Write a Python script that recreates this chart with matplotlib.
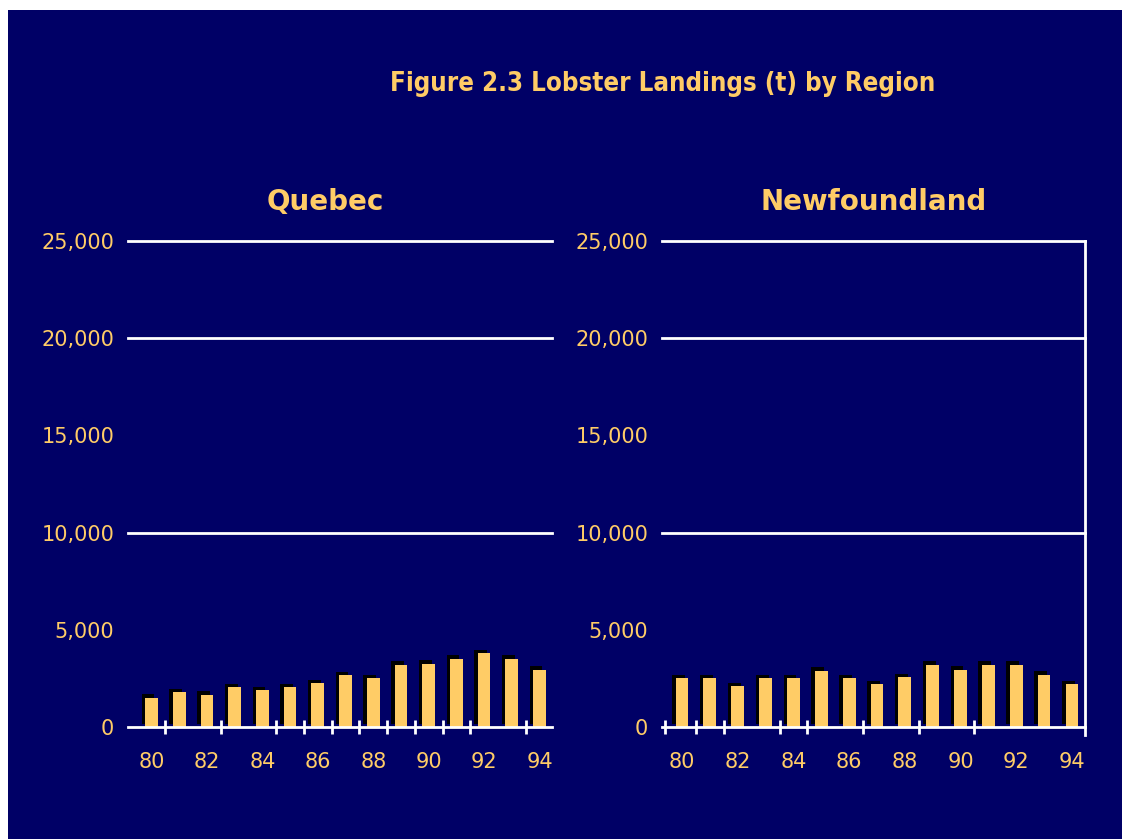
"""
Figure 2.3 - Lobster landings (t) by region, Quebec vs Newfoundland, 1980-94.
"""

import matplotlib.pyplot as plt
import matplotlib.patheffects as pe
from matplotlib.patches import Rectangle

# Data
years = list(range(80, 95))
year_labels = ['80', '82', '84', '86', '88', '90', '92', '94']
quebec = [1500, 1800, 1650, 2050, 1900, 2050, 2250, 2650, 2500,
          3200, 3250, 3500, 3800, 3500, 2950]
newfoundland = [2500, 2500, 2100, 2500, 2500, 2900, 2500, 2200, 2550,
                3200, 2950, 3200, 3200, 2700, 2200]
y_ticks = [0, 5000, 10000, 15000, 20000, 25000]
grid_values = [10000, 20000, 25000]

# tick marks on the category axis sit at odd places in the original
quebec_marks = [80.5, 82.5, 84.5, 85.5, 86.5, 87.5, 88.5, 89.5, 90.5, 91.5, 93.5]
nfld_marks = [79.4, 80.5, 81.5, 83.5, 84.5, 86.5, 88.5, 90.5]

NAVY = '#000066'
GOLD = '#ffcc66'
W, H = 1122, 839

fig = plt.figure(figsize=(W / 100, H / 100), dpi=100)
fig.patch.set_facecolor('white')
fig.add_artist(Rectangle((8 / W, 0), 1 - 8 / W, 1 - 10 / H,
                         transform=fig.transFigure, facecolor=NAVY,
                         edgecolor='none', zorder=0))

fig.text(663 / W, 1 - 84 / H, 'Figure 2.3 Lobster Landings (t) by Region',
         ha='center', va='center', color=GOLD, fontsize=18.5, fontweight='bold',
         fontstretch='condensed', family=['DejaVu Sans'])


def draw_panel(rect, values, marks, xlim, title, title_x, right_spine):
    ax = fig.add_axes(rect)
    ax.set_facecolor('none')
    ax.bar(years, values, width=0.46, color=GOLD, zorder=3,
           path_effects=[pe.SimplePatchShadow(offset=(-2.5, 2.5), shadow_rgbFace='black', alpha=1),
                         pe.Normal()])
    for v in grid_values:
        ax.axhline(v, color='white', lw=2, zorder=1, clip_on=False)
    ax.set_xlim(*xlim)
    ax.set_ylim(0, 25000)
    ax.set_yticks(y_ticks)
    ax.set_yticklabels([f'{v:,}' for v in y_ticks])
    ax.set_xticks([int(s) for s in year_labels])
    ax.set_xticklabels(year_labels)
    ax.set_xticks(marks, minor=True)
    ax.tick_params(axis='y', length=0, pad=10, labelcolor=GOLD, labelsize=15)
    ax.tick_params(axis='x', which='major', length=0, pad=18, labelcolor=GOLD, labelsize=15)
    ax.tick_params(axis='x', which='minor', direction='inout', length=10,
                   width=2, color='white')
    for side in ['top', 'left', 'right']:
        ax.spines[side].set_visible(False)
    ax.spines['bottom'].set_color('white')
    ax.spines['bottom'].set_linewidth(2)
    ax.spines['bottom'].set_zorder(4)
    if right_spine:
        ax.spines['right'].set_visible(True)
        ax.spines['right'].set_color('white')
        ax.spines['right'].set_linewidth(2)
        ax.spines['right'].set_bounds(-400, 25000)
    ax.set_title(title, color=GOLD, fontsize=20, fontweight='bold', pad=22, x=title_x)
    return ax


bottom = (H - 727) / H
height = 486 / H
draw_panel([128 / W, bottom, 424 / W, height], quebec, quebec_marks,
           (79.15, 94.45), 'Quebec', 0.465, False)
draw_panel([662 / W, bottom, 423 / W, height], newfoundland, nfld_marks,
           (79.28, 94.47), 'Newfoundland', 0.5, True)

fig.savefig('out.png', dpi=100)
